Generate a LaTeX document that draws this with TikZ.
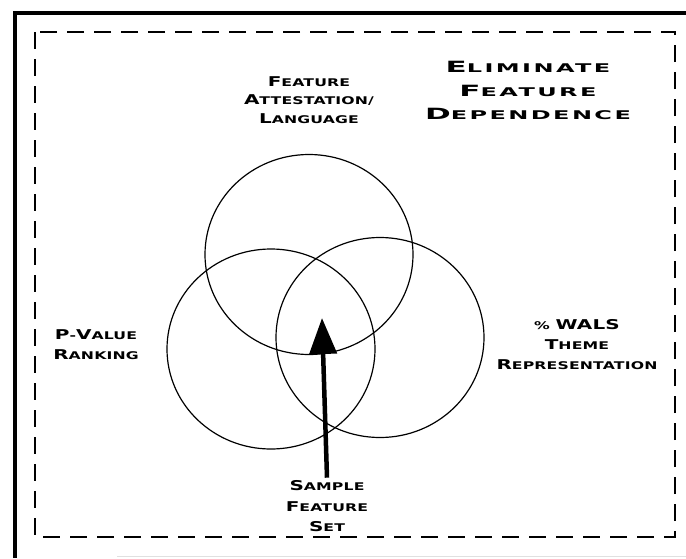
\documentclass[tikz,border=0pt]{standalone}
\usepackage{fontspec}
\usepackage{graphicx}
\usetikzlibrary{arrows.meta,shapes.geometric}
\newfontfamily\lblfont[LetterSpace=1]{DejaVu Sans Bold}
\newfontfamily\ttlfont[LetterSpace=10]{DejaVu Sans Bold}
\newcommand\lsc[2]{{\fontsize{13.5}{13.5}\selectfont #1}{\fontsize{10.6}{10.6}\selectfont #2}}
\newcommand\tsc[2]{{\fontsize{15.5}{15.5}\selectfont #1}{\fontsize{12}{12}\selectfont #2}}
\newcommand\hs[1]{\scalebox{1.48}[1]{#1}}
\newcommand\ths[1]{\scalebox{2.0}[1]{#1}}
\begin{document}
\begin{tikzpicture}[x=1pt,y=-1pt,
  border/.style={line width=4pt,black},
  faint/.style={line width=1pt,black!12},
  dashbox/.style={line width=2.7pt,dash pattern=on 17pt off 10pt},
  circ/.style={draw,ellipse,line width=1.2pt,inner sep=0pt,minimum width=208pt,minimum height=200pt},
  lbl/.style={font={\lblfont\fontsize{10.6}{#1}\selectfont},align=center,inner sep=0pt},
  ttl/.style={font={\ttlfont\fontsize{12}{#1}\selectfont},align=center,inner sep=0pt},
  arrowline/.style={line width=4.5pt,-{Triangle[length=36pt,width=27pt]}}]
\useasboundingbox (0,0) rectangle (686,558);
\fill[white] (0,0) rectangle (686,558);
\draw[border] (686,12.5) -- (14.5,12.5) -- (14.5,558);
\draw[faint] (117,556.5) -- (686,556.5);
\draw[dashbox] (35,32) rectangle (675,537);
\node[circ] (ctop) at (309,254.5) {};
\node[circ] (cleft) at (271,349) {};
\node[circ] (cright) at (380,337.5) {};
\node[lbl=18.5] (attest) at (309,100) {\hs{\lsc{F}{EATURE}}\\\hs{\lsc{A}{TTESTATION/}}\\\hs{\lsc{L}{ANGUAGE}}};
\node[ttl=23.5] (title) at (528,90.5) {\ths{\tsc{E}{LIMINATE}}\\\ths{\tsc{F}{EATURE}}\\\ths{\tsc{D}{EPENDENCE}}};
\node[lbl=20] (pval) at (96,345) {\hs{\lsc{P}{-}\lsc{V}{ALUE}}\\\hs{\lsc{R}{ANKING}}};
\node[lbl=20] (wals) at (577,345) {\hs{{\fontsize{10.6}{10.6}\selectfont\%} {\fontsize{13.5}{13.5}\selectfont WALS}}\\\hs{\lsc{T}{HEME}}\\\hs{\lsc{R}{EPRESENTATION}}};
\node[lbl=20.5] (sample) at (327,506.5) {\hs{\lsc{S}{AMPLE}}\\\hs{\lsc{F}{EATURE}}\\\hs{\lsc{S}{ET}}};
\coordinate (tip) at (322,318);
\draw[arrowline] ([yshift=3pt]sample.north) -- (tip);
\end{tikzpicture}
\end{document}
